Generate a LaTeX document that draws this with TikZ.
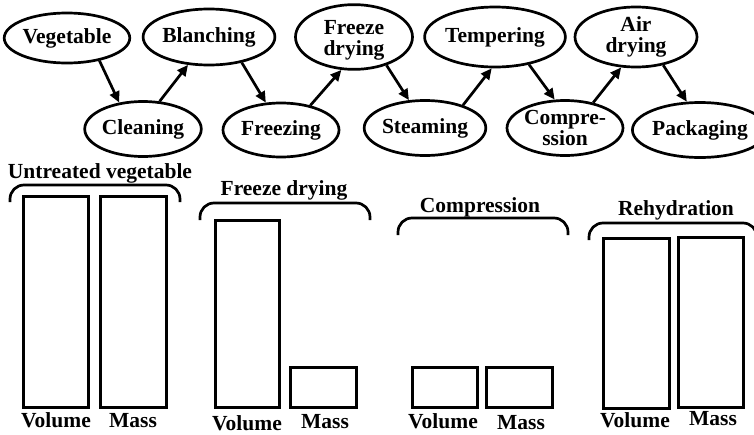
\documentclass[tikz,border=0pt]{standalone}
\usepackage{fontspec}
\setmainfont{Liberation Serif}
\usetikzlibrary{shapes.geometric,arrows.meta}
\tikzset{
  stage/.style={ellipse,draw,line width=2.7pt,inner sep=0pt,align=center,
    font=\bfseries\fontsize{21.5}{21}\selectfont},
  flow/.style={line width=2.7pt,-{Triangle[length=11pt,width=10pt]}},
  bar/.style={line width=3pt},
  brace/.style={line width=2.7pt,rounded corners=14pt},
  lab/.style={anchor=base,inner sep=0pt,font=\bfseries\fontsize{21.5}{21.5}\selectfont}
}
\begin{document}
\begin{tikzpicture}[x=1pt,y=-1pt]
\useasboundingbox (0,0) rectangle (754,434);
% flow chart
\node[stage,minimum width=118pt,minimum height=50pt] (veg) at (67,38) {Vegetable};
\node[stage,minimum width=117pt,minimum height=56pt] (bla) at (209,37) {Blanching};
\node[stage,minimum width=117pt,minimum height=59pt] (fdr) at (354,37) {\rule{0pt}{20pt}Freeze\\drying};
\node[stage,minimum width=114pt,minimum height=60pt] (tem) at (495,37) {Tempering};
\node[stage,minimum width=122pt,minimum height=60pt] (air) at (636,37) {Air\\drying};
\node[stage,minimum width=114pt,minimum height=55pt] (cle) at (143,129) {Cleaning};
\node[stage,minimum width=116pt,minimum height=54pt] (fre) at (281,130) {Freezing};
\node[stage,minimum width=114pt,minimum height=55pt] (ste) at (425,128) {Steaming};
\node[stage,minimum width=115pt,minimum height=55pt] (com) at (565,128) {Compre-\\ssion};
\node[stage,minimum width=106pt,minimum height=55pt] (pac) at (700,130) {Packaging};
\draw[flow] (veg.-35) -- (cle.132);
\draw[flow] (cle.59) -- (bla.233);
\draw[flow] (bla.-38) -- (fre.119);
\draw[flow] (fre.40) -- (fdr.249);
\draw[flow] (fdr.-41) -- (ste.120);
\draw[flow] (ste.31) -- (tem.264);
\draw[flow] (tem.-39) -- (com.110);
\draw[flow] (com.42) -- (air.244);
\draw[flow] (air.-46) -- (pac.115);
% group 1
\node[lab] (t1) at (100,178) {Untreated vegetable};
\draw[brace] (10,202) -- (10,185) -- (180,185) -- (180,202);
\draw[bar] (23,196) rectangle (88,407);
\draw[bar] (100,196) rectangle (166,407);
\node[lab] (v1) at (56,427) {Volume};
\node[lab] (m1) at (133,427) {Mass};
% group 2
\node[lab] (t2) at (284,195) {Freeze drying};
\draw[brace] (200,220) -- (200,203) -- (370,203) -- (370,220);
\draw[bar] (215,220) rectangle (279,407);
\draw[bar] (290,367) rectangle (356,407);
\node[lab] (v2) at (247,430) {Volume};
\node[lab] (m2) at (325,428) {Mass};
% group 3
\node[lab] (t3) at (480,212) {Compression};
\draw[brace] (398,235) -- (398,218) -- (568,218) -- (568,235);
\draw[bar] (412,367) rectangle (477,407);
\draw[bar] (486,367) rectangle (552,407);
\node[lab] (v3) at (443,428) {Volume};
\node[lab] (m3) at (521,429) {Mass};
% group 4
\node[lab] (t4) at (676,215) {Rehydration};
\draw[brace] (589,240) -- (589,223) -- (757,223) -- (757,240);
\draw[bar] (603,238) rectangle (669,408);
\draw[bar] (678,237) rectangle (743,407);
\node[lab] (v4) at (635,427) {Volume};
\node[lab] (m4) at (713,425) {Mass};
\end{tikzpicture}
\end{document}
